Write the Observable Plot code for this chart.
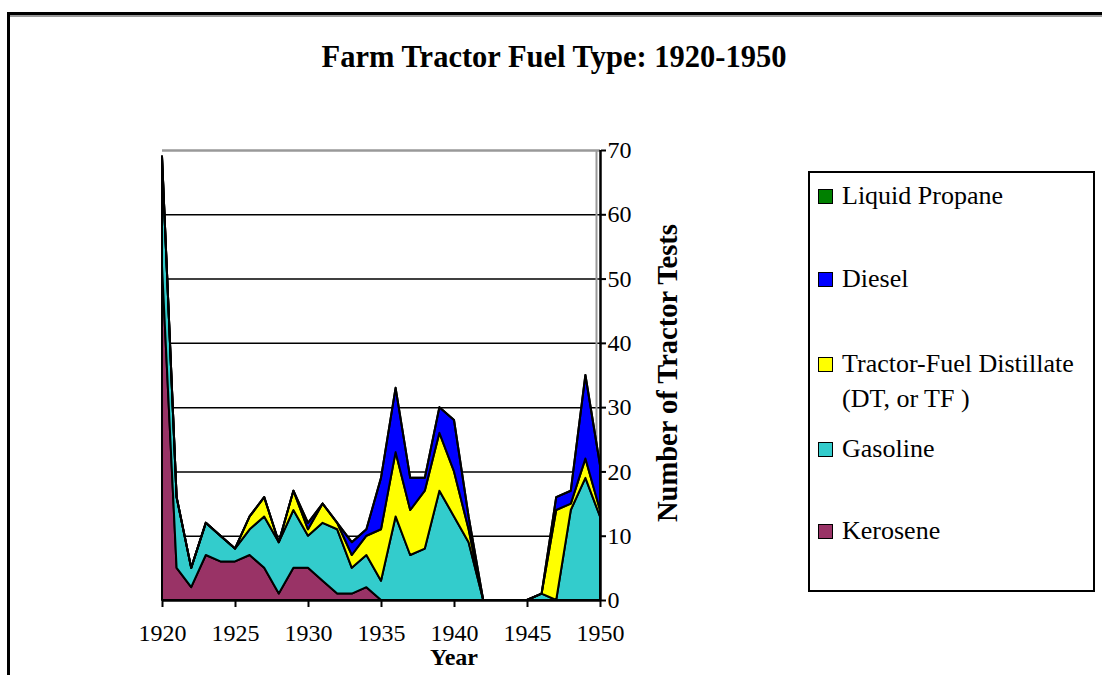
<!DOCTYPE html>
<html><head><meta charset="utf-8">
<script src="https://cdn.jsdelivr.net/npm/d3@7"></script>
<script src="https://cdn.jsdelivr.net/npm/@observablehq/plot@0.6"></script>
<style>
body{margin:0;background:#fff;}
#wrap{position:relative;width:1102px;height:675px;overflow:hidden;font-family:'Liberation Serif','Times New Roman',serif;color:#000;}
#frame{position:absolute;left:7px;top:12px;width:1200px;height:800px;border-left:3px solid #000;border-top:3px solid #000;box-shadow:0 2px 0 #999 inset;}
#title{position:absolute;left:0;width:1108px;top:42px;text-align:center;font-weight:bold;font-size:30.5px;line-height:1;white-space:nowrap;}
#chart{position:absolute;left:0;top:0;}
#xlab{position:absolute;left:354px;width:200px;top:645px;text-align:center;font-weight:bold;font-size:24px;line-height:1;}
#ylab{position:absolute;left:645px;top:200px;width:40px;height:340px;}
#legend{position:absolute;left:808px;top:171px;width:287px;height:421px;box-sizing:border-box;border:2px solid #000;background:#fff;}
.lt{position:absolute;left:842px;font-size:26px;line-height:1;white-space:nowrap;}
.sw{position:absolute;left:818px;width:15px;height:15px;box-sizing:border-box;border:1.5px solid #000;}
</style>
</head><body>
<div id="wrap">
  <div id="frame"></div>
  <div id="title">Farm Tractor Fuel Type: 1920-1950</div>
  <div id="chart"></div>
  <div id="xlab">Year</div>
  <div id="ylab"><svg width="40" height="340"><text transform="translate(32,322) rotate(-90)" font-family="'Liberation Serif','Times New Roman',serif" font-weight="bold" font-size="28.5" text-anchor="start">Number of Tractor Tests</text></svg></div>
  <div id="legend"></div>
  <div id="legitems"></div>
</div>
<script>
const years = [1920,1921,1922,1923,1924,1925,1926,1927,1928,1929,1930,1931,1932,1933,1934,1935,1936,1937,1938,1939,1940,1941,1942,1943,1944,1945,1946,1947,1948,1949,1950];
const kerosene   = [52,5,2,7,6,6,7,5,1,5,5,3,1,1,2,0,0,0,0,0,0,0,0,0,0,0,0,0,0,0,0];
const gasoline   = [17,11,3,5,4,2,4,8,8,9,5,9,10,4,5,3,13,7,8,17,13,9,0,0,0,0,1,0,14,19,13];
const distillate = [0,0,0,0,0,0,2,3,0,3,1,3,1,2,3,8,10,7,9,9,7,2,0,0,0,0,0,14,1,3,1];
const diesel     = [0,0,0,0,0,0,0,0,0,0,1,0,0,2,1,8,10,5,2,4,8,2,0,0,0,0,0,2,2,13,7];
const propane    = [0,0,0,0,0,0,0,0,0,0,0,0,0,0,0,0,0,0,0,0,0,0,0,0,0,0,0,0,0,0,0];

const fuels = ["Kerosene","Gasoline","Tractor-Fuel Distillate (DT, or TF )","Diesel","Liquid Propane"];
const colors = ["#993366","#33CCCC","#FFFF00","#0000FF","#008000"];
const xTicks = [1920,1925,1930,1935,1940,1945,1950];
const yTicks = [0,10,20,30,40,50,60,70];

const seriesList = [kerosene, gasoline, distillate, diesel, propane];
const rows = [];
fuels.forEach((f,i)=>years.forEach((yr,j)=>rows.push({year:yr, fuel:f, value:seriesList[i][j]})));

const chart = Plot.plot({
  width:1102, height:675,
  marginLeft:162, marginRight:502, marginTop:150, marginBottom:75,
  x:{domain:[1920,1950]},
  y:{domain:[0,70]},
  color:{domain:fuels, range:colors},
  style:{fontFamily:"'Liberation Serif','Times New Roman',serif", fontSize:"24px", background:"transparent", color:"#000", overflow:"visible"},
  marks:[
    Plot.ruleY(yTicks.filter(d=>d>0 && d<70), {stroke:"#000", strokeWidth:1.5}),
    Plot.ruleY([70], {stroke:"#999", strokeWidth:2.5}),
    Plot.ruleX([1950], {y1:0, y2:70, stroke:"#999", strokeWidth:2, dx:-4}),
    Plot.areaY(rows, {x:"year", y:"value", z:"fuel", fill:"fuel", stroke:"#000", strokeWidth:2}),
    Plot.ruleY([0], {stroke:"#000", strokeWidth:2.5}),
    Plot.ruleX([1950], {y1:0, y2:70, stroke:"#000", strokeWidth:2.5}),
    Plot.axisX({ticks:xTicks, tickSize:7, tickPadding:16, tickFormat:d=>String(d), fontSize:24, strokeWidth:2, label:null}),
    Plot.axisY({anchor:"right", ticks:yTicks, tickSize:5, tickPadding:2, fontSize:24, strokeWidth:2, label:null})
  ]
});
document.getElementById("chart").appendChild(chart);

const legendLines = [
  {text:"Liquid Propane", base:205, color:colors[4]},
  {text:"Diesel", base:288, color:colors[3]},
  {text:"Tractor-Fuel Distillate", base:373, color:colors[2]},
  {text:"(DT, or TF )", base:408, color:null},
  {text:"Gasoline", base:458, color:colors[1]},
  {text:"Kerosene", base:540, color:colors[0]}
];
const li = document.getElementById("legitems");
legendLines.forEach(l=>{
  const t = document.createElement("div");
  t.className="lt"; t.textContent=l.text; t.style.top=(l.base-22)+"px";
  li.appendChild(t);
  if(l.color){
    const s=document.createElement("div");
    s.className="sw"; s.style.background=l.color; s.style.top=(l.base-16)+"px";
    li.appendChild(s);
  }
});
</script>
</body></html>
